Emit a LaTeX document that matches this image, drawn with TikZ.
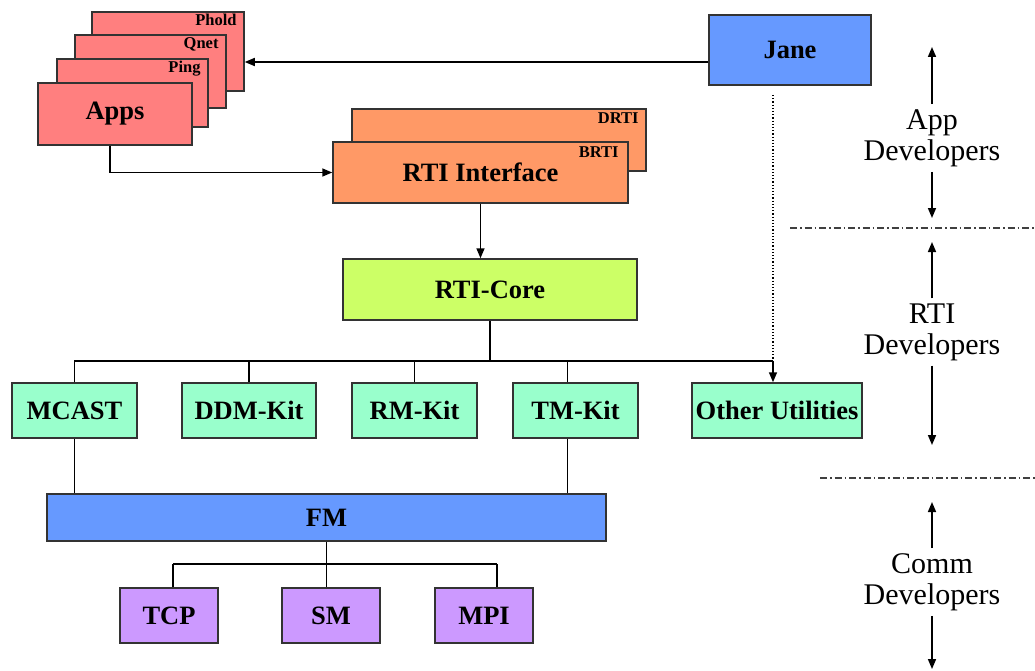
\documentclass[tikz,border=0pt]{standalone}
\usepackage{fontspec}
\setmainfont{Liberation Serif}
\usetikzlibrary{arrows.meta,calc}

\definecolor{appred}{HTML}{FF7F7F}
\definecolor{rtiorange}{HTML}{FF9966}
\definecolor{corelime}{HTML}{CCFF66}
\definecolor{kitgreen}{HTML}{99FFCC}
\definecolor{fmblue}{HTML}{6699FF}
\definecolor{netpurple}{HTML}{CC99FF}
\definecolor{edge}{HTML}{333333}

\tikzset{
  box/.style={draw=edge, line width=1.5pt, inner sep=0pt, text=black,
    font=\fontsize{26.5}{30}\selectfont\bfseries},
  tag/.style={inner sep=0pt, anchor=north east, text=black,
    font=\fontsize{16.5}{18}\selectfont\bfseries},
  wire/.style={line width=1.6pt, draw=black},
  arr/.style={wire, -{Triangle[length=10pt,width=8pt]}},
  role/.style={align=center, inner sep=5pt, font=\fontsize{30}{31}\selectfont},
  layersep/.style={dash pattern=on 7pt off 3pt on 1.5pt off 3pt, line width=1.1pt, draw=black!75},
}

\begin{document}
\begin{tikzpicture}[x=1pt,y=-1pt]
\useasboundingbox (0,0) rectangle (1035,671);

% stacked applications
\node[box, fill=appred, minimum width=152pt, minimum height=79pt] (phold) at (168,51.5) {};
\node[tag] (pholdtag) at ([xshift=-8pt,yshift=-3pt]phold.north east) {Phold};
\node[box, fill=appred, minimum width=151pt, minimum height=73pt] (qnet) at (150.5,71.5) {};
\node[tag] (qnettag) at ([xshift=-8pt,yshift=-3pt]qnet.north east) {Qnet};
\node[box, fill=appred, minimum width=151pt, minimum height=68pt] (ping) at (132.5,93) {};
\node[tag] (pingtag) at ([xshift=-8pt,yshift=-3pt]ping.north east) {Ping};
\node[box, fill=appred, minimum width=154pt, minimum height=62pt] (apps) at (115,114) {Apps};

% RTI interface layers
\node[box, fill=rtiorange, minimum width=294pt, minimum height=62pt] (drti) at (499,140) {};
\node[tag] (drtitag) at ([xshift=-8pt,yshift=-4pt]drti.north east) {DRTI};
\node[box, fill=rtiorange, minimum width=295pt, minimum height=61pt] (rtiif) at (480.5,172.5) {RTI Interface};
\node[tag] (brtitag) at ([xshift=-10pt,yshift=-5pt]rtiif.north east) {BRTI};

\node[box, fill=fmblue, minimum width=162pt, minimum height=70pt] (jane) at (790,50) {Jane};

\node[box, fill=corelime, minimum width=294pt, minimum height=61pt] (core) at (490,289.5) {RTI-Core};

% kits
\node[box, fill=kitgreen, minimum width=125pt, minimum height=55pt] (mcast) at (74.5,410.5) {MCAST};
\node[box, fill=kitgreen, minimum width=134pt, minimum height=55pt] (ddm) at (249,410.5) {DDM-Kit};
\node[box, fill=kitgreen, minimum width=125pt, minimum height=55pt] (rm) at (414.5,410.5) {RM-Kit};
\node[box, fill=kitgreen, minimum width=125pt, minimum height=55pt] (tm) at (575.5,410.5) {TM-Kit};
\node[box, fill=kitgreen, minimum width=170pt, minimum height=55pt] (other) at (777,410.5) {Other Utilities};

\node[box, fill=fmblue, minimum width=559pt, minimum height=47pt] (fm) at (326.5,517.5) {FM};

\node[box, fill=netpurple, minimum width=98pt, minimum height=55pt] (tcp) at (169,615.5) {TCP};
\node[box, fill=netpurple, minimum width=98pt, minimum height=55pt] (sm) at (331,615.5) {SM};
\node[box, fill=netpurple, minimum width=98pt, minimum height=55pt] (mpi) at (484,615.5) {MPI};

% connectors
\draw[arr] ([yshift=-12pt]jane.west) -- ([yshift=-12pt]jane.west -| phold.east);
\draw[arr] ([xshift=-5pt]apps.south) |- (rtiif.west);
\draw[arr] (rtiif.south) -- (rtiif.south |- core.north);

\coordinate (busL) at (74,361);
\coordinate (busR) at (773,361);
\draw[wire] (busL) -- (busR);
\draw[wire] (core.south) -- (core.south |- busL);
\draw[wire] (mcast.north) -- (mcast.north |- busL);
\draw[wire] (ddm.north) -- (ddm.north |- busL);
\draw[wire] (rm.north) -- (rm.north |- busL);
\draw[wire] ([xshift=-8pt]tm.north) -- ([xshift=-8pt]tm.north |- busL);
\draw[arr] (busR) -- (busR |- other.north);

\coordinate (janetap) at (773,95);
\draw[dotted, line width=1.2pt] (janetap) -- (busR);

\draw[wire] (mcast.south) -- (mcast.south |- fm.north);
\draw[wire] ([xshift=-8pt]tm.south) -- ([xshift=-8pt]tm.south |- fm.north);

\coordinate (netL) at (173,564);
\coordinate (netR) at (497,564);
\draw[wire] (netL) -- (netR);
\draw[wire] (fm.south) -- (fm.south |- netL);
\draw[wire] (netL) -- (netL |- tcp.north);
\draw[wire] (fm.south |- netL) -- (fm.south |- sm.north);
\draw[wire] (netR) -- (netR |- mpi.north);

% developer roles
\node[role] (appdev) at (932,138) {App\\Developers};
\node[role] (rtidev) at (932,332) {RTI\\Developers};
\node[role] (commdev) at (932,582) {Comm\\Developers};

\coordinate (appTop) at (932,47);
\coordinate (appBot) at (932,218);
\coordinate (rtiTop) at (932,242);
\coordinate (rtiBot) at (932,445);
\coordinate (commTop) at (932,502);
\coordinate (commBot) at (932,669);
\draw[arr] (appdev.north) -- (appTop);
\draw[arr] (appdev.south) -- (appBot);
\draw[arr] (rtidev.north) -- (rtiTop);
\draw[arr] (rtidev.south) -- (rtiBot);
\draw[arr] (commdev.north) -- (commTop);
\draw[arr] (commdev.south) -- (commBot);

\coordinate (sepA) at (790,228);
\coordinate (sepB) at (820,478);
\draw[layersep] (sepA) -- (1035,228);
\draw[layersep] (sepB) -- (1035,478);
\end{tikzpicture}
\end{document}
